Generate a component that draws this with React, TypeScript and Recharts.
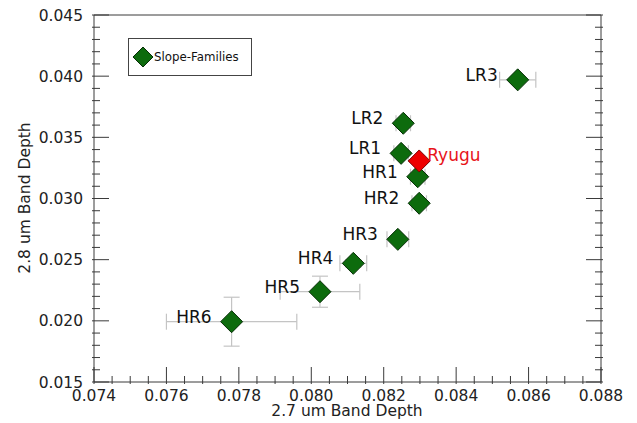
import React from "react";
import {
  ScatterChart,
  Scatter,
  XAxis,
  YAxis,
  ErrorBar,
  Legend,
} from "recharts";

// 2.7 um vs 2.8 um band depth per slope family
const names = ["HR6", "HR5", "HR4", "HR3", "HR2", "HR1", "LR1", "LR2", "LR3"];
const depth27 = [0.0778, 0.08024, 0.08116, 0.08239, 0.08298, 0.08294, 0.08248, 0.08254, 0.0857];
const depth28 = [0.01993, 0.02238, 0.0247, 0.02666, 0.02961, 0.03178, 0.03369, 0.03615, 0.0397];
const err27 = [0.0018, 0.0011, 0.00037, 0.0003, 0.0002, 0.0002, 0.0002, 0.0002, 0.0005];
const err28 = [0.002, 0.00127, 0.0003, 0.0002, 0.0002, 0.0003, 0.0003, 0.0003, 0.0002];

const ryuguX = [0.08298];
const ryuguY = [0.03307];

const xMajor = [0.074, 0.076, 0.078, 0.08, 0.082, 0.084, 0.086, 0.088];
const yMajor = [0.015, 0.02, 0.025, 0.03, 0.035, 0.04, 0.045];
const xLabels = ["0.074", "0.076", "0.078", "0.080", "0.082", "0.084", "0.086", "0.088"];
const yLabels = ["0.015", "0.020", "0.025", "0.030", "0.035", "0.040", "0.045"];

const families = names.map((n, i) => ({
  name: n,
  x: depth27[i],
  y: depth28[i],
  ex: err27[i],
  ey: err28[i],
}));
const ryugu = ryuguX.map((x, i) => ({ name: "Ryugu", x, y: ryuguY[i] }));

// minor ticks between the majors
const withMinor = (major: number[], parts: number) => {
  const out: number[] = [];
  major.forEach((m, i) => {
    out.push(m);
    if (i < major.length - 1) {
      const step = (major[i + 1] - m) / parts;
      for (let k = 1; k < parts; k++) out.push(+(m + step * k).toFixed(6));
    }
  });
  return out;
};
const xTicks = withMinor(xMajor, 4);
const yTicks = withMinor(yMajor, 5);

const FONT = "'DejaVu Sans', sans-serif";
const AXIS = "#3a3a3a";
const MAJOR = 17;
const MINOR = 8;

const majorIdx = (arr: number[], v: number) =>
  arr.findIndex((m) => Math.abs(m - v) < 1e-7);

const Diamond = ({ cx, cy, fill, stroke, r = 11 }: any) => (
  <polygon
    points={`${cx},${cy - r} ${cx + r},${cy} ${cx},${cy + r} ${cx - r},${cy}`}
    fill={fill}
    stroke={stroke}
    strokeWidth={1}
  />
);

const App = () => {
  const bottomTick = (p: any) => {
    const i = majorIdx(xMajor, p.payload.value);
    const len = i >= 0 ? MAJOR : MINOR;
    return (
      <g>
        <line x1={p.x} y1={p.y} x2={p.x} y2={p.y - len} stroke={AXIS} strokeWidth={1} />
        {i >= 0 && (
          <text x={p.x} y={p.y + 17} textAnchor="middle" fontSize={15.5} fontFamily={FONT} fill="#222">
            {xLabels[i]}
          </text>
        )}
      </g>
    );
  };
  const topTick = (p: any) => {
    const len = majorIdx(xMajor, p.payload.value) >= 0 ? MAJOR : MINOR;
    return <line x1={p.x} y1={p.y} x2={p.x} y2={p.y + len} stroke={AXIS} strokeWidth={1} />;
  };
  const leftTick = (p: any) => {
    const i = majorIdx(yMajor, p.payload.value);
    const len = i >= 0 ? MAJOR : MINOR;
    return (
      <g>
        <line x1={p.x} y1={p.y} x2={p.x + len} y2={p.y} stroke={AXIS} strokeWidth={1} />
        {i >= 0 && (
          <text x={p.x - 9} y={p.y + 5.5} textAnchor="end" fontSize={15.5} fontFamily={FONT} fill="#222">
            {yLabels[i]}
          </text>
        )}
      </g>
    );
  };
  const rightTick = (p: any) => {
    const len = majorIdx(yMajor, p.payload.value) >= 0 ? MAJOR : MINOR;
    return <line x1={p.x} y1={p.y} x2={p.x - len} y2={p.y} stroke={AXIS} strokeWidth={1} />;
  };

  const familyShape = (p: any) => (
    <g>
      <Diamond cx={p.cx} cy={p.cy} fill="#0d6b0d" stroke="#062e06" />
      <text x={p.cx - 20} y={p.cy + 1} textAnchor="end" fontSize={17} fontFamily={FONT} fill="#111">
        {p.payload.name}
      </text>
    </g>
  );
  const ryuguShape = (p: any) => (
    <g>
      <Diamond cx={p.cx} cy={p.cy} fill="#ee0000" stroke="#7a0000" />
      <text x={p.cx + 8} y={p.cy} textAnchor="start" fontSize={17} fontFamily={FONT} fill="#e8141b">
        {p.payload.name}
      </text>
    </g>
  );

  const legendContent = () => (
    <svg width={124} height={38}>
      <rect x={0.5} y={0.5} width={123} height={37} fill="#fff" stroke="#444" />
      <Diamond cx={15} cy={19} r={10} fill="#0d6b0d" stroke="#062e06" />
      <text x={26} y={23} fontSize={11.8} fontFamily={FONT} fill="#111">
        Slope-Families
      </text>
    </svg>
  );

  return (
    <div style={{ position: "absolute", left: 0, top: 0, width: 637, height: 423, background: "#fff" }}>
      <ScatterChart width={637} height={423} margin={{ top: 14, right: 35, bottom: 0, left: 0 }}>
        <XAxis
          xAxisId="b"
          type="number"
          dataKey="x"
          orientation="bottom"
          domain={[0.074, 0.088]}
          allowDataOverflow
          ticks={xTicks}
          interval={0}
          tickSize={0}
          tickLine={false}
          tick={bottomTick}
          height={41}
          axisLine={{ stroke: AXIS }}
        />
        <XAxis
          xAxisId="t"
          type="number"
          orientation="top"
          domain={[0.074, 0.088]}
          allowDataOverflow
          ticks={xTicks}
          interval={0}
          tickSize={0}
          tickLine={false}
          tick={topTick}
          height={1}
          axisLine={{ stroke: AXIS }}
        />
        <YAxis
          yAxisId="l"
          type="number"
          dataKey="y"
          orientation="left"
          domain={[0.015, 0.045]}
          allowDataOverflow
          ticks={yTicks}
          interval={0}
          tickSize={0}
          tickLine={false}
          tick={leftTick}
          width={94}
          axisLine={{ stroke: AXIS }}
        />
        <YAxis
          yAxisId="r"
          type="number"
          orientation="right"
          domain={[0.015, 0.045]}
          allowDataOverflow
          ticks={yTicks}
          interval={0}
          tickSize={0}
          tickLine={false}
          tick={rightTick}
          width={1}
          axisLine={{ stroke: AXIS }}
        />
        <Legend
          layout="vertical"
          align="center"
          verticalAlign="middle"
          content={legendContent}
          wrapperStyle={{ left: 128, top: 38, width: 124, height: 38 }}
        />
        <Scatter
          xAxisId="b"
          yAxisId="l"
          data={families}
          shape={familyShape}
          isAnimationActive={false}
        />
        <Scatter
          xAxisId="b"
          yAxisId="l"
          data={ryugu}
          shape={ryuguShape}
          isAnimationActive={false}
        />
        <Scatter
          xAxisId="b"
          yAxisId="l"
          data={families}
          shape={() => <g />}
          isAnimationActive={false}
        >
          <ErrorBar dataKey="ex" direction="x" width={8} stroke="#c4c4c4" strokeWidth={1.2} />
          <ErrorBar dataKey="ey" direction="y" width={8} stroke="#c4c4c4" strokeWidth={1.2} />
        </Scatter>
        <text x={347} y={416} textAnchor="middle" fontSize={15.5} fontFamily={FONT} fill="#222">
          2.7 um Band Depth
        </text>
        <text
          x={30}
          y={198}
          textAnchor="middle"
          fontSize={15.5}
          fontFamily={FONT}
          fill="#222"
          transform="rotate(-90 30 198)"
        >
          2.8 um Band Depth
        </text>
      </ScatterChart>
    </div>
  );
};

export default App;
